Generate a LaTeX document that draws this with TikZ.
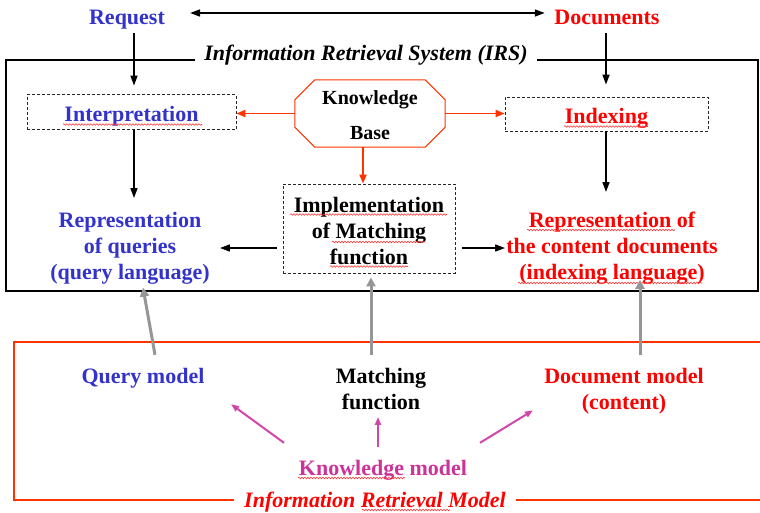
\documentclass[tikz,border=0pt]{standalone}
\usepackage{fontspec}
\setmainfont{Liberation Serif}
\usetikzlibrary{arrows.meta,calc,decorations.pathmorphing}
\definecolor{qblue}{RGB}{51,51,204}
\definecolor{dred}{RGB}{255,0,0}
\definecolor{ored}{RGB}{255,51,0}
\definecolor{kmag}{RGB}{204,51,153}
\definecolor{amag}{RGB}{210,70,170}
\definecolor{agray}{RGB}{150,150,150}
\begin{document}
\begin{tikzpicture}[x=1pt,y=-1pt,
  lbl/.style={font=\fontsize{22}{26}\selectfont\bfseries, align=center, inner sep=0pt},
  ttl/.style={font=\fontsize{22}{26}\selectfont\bfseries\itshape, inner sep=0pt},
  one/.style={text height=15pt, text depth=5pt},
  dbox/.style={draw=black!85, dash pattern=on 3pt off 2pt, line width=0.8pt},
  arr/.style={-{Triangle[length=10pt,width=7pt]}, line width=1.6pt},
  dblarr/.style={{Triangle[length=10pt,width=7pt]}-{Triangle[length=10pt,width=7pt]}, line width=1.6pt},
  rarr/.style={draw=ored, -{Triangle[length=9pt,width=7pt]}, line width=1.8pt},
  garr/.style={draw=agray, -{Triangle[length=9pt,width=9pt]}, line width=3pt},
  marr/.style={draw=amag, -{Triangle[length=8pt,width=6pt]}, line width=2pt},
  sq/.style={draw=dred!80, line width=0.6pt, decorate, decoration={snake, segment length=3pt, amplitude=0.8pt}},
]
\useasboundingbox (0,0) rectangle (760,512);

% top labels
\node[lbl,one,text=qblue] (req) at (127,19) {Request};
\node[lbl,one,text=dred] (doc) at (607,19) {Documents};
\node[ttl,one] (irs) at (366,55) {Information Retrieval System (IRS)};

% IRS frame
\draw[line width=1.5pt] ([xshift=-9pt]irs.base west) -- (6,60) -- (6,291) -- (758,291) -- (758,60) -- ([xshift=9pt]irs.base east);

% boxes
\node[lbl,dbox,text=qblue,text height=18pt,text depth=0pt,minimum width=209pt,minimum height=35pt] (interp) at (131.5,112) {Interpretation};
\node[lbl,dbox,text=dred,text height=18pt,text depth=0pt,minimum width=203pt,minimum height=34pt] (idx) at (606.5,114) {Indexing};
\node[minimum width=150pt,minimum height=67pt,inner sep=0pt,align=center,font=\fontsize{20}{35}\selectfont\bfseries] (kb) at (370,113.5) {\rule{0pt}{17pt}Knowledge\\Base};
\draw[ored,line width=1pt]
  ($(kb.north west)+(20,0)$) -- ($(kb.north east)+(-20,0)$) -- ($(kb.north east)+(0,20)$) --
  ($(kb.south east)+(0,-20)$) -- ($(kb.south east)+(-20,0)$) -- ($(kb.south west)+(20,0)$) --
  ($(kb.south west)+(0,-20)$) -- ($(kb.north west)+(0,20)$) -- cycle;
\node[lbl,dbox,minimum width=172pt,minimum height=89pt] (impl) at (369,228.5) {\rule{0pt}{20pt}Implementation\\of Matching\\function};

\node[lbl,text=qblue,anchor=north] (qrep) at (130,212) {\rule{0pt}{15pt}Representation\\of queries\\(query language)};
\node[lbl,text=dred,anchor=north] (crep) at (612,212) {\rule{0pt}{15pt}Representation of\\the content documents\\(indexing language)};

% bottom labels
\node[lbl,one,text=qblue] (qm) at (143,378) {Query model};
\node[lbl,anchor=north] (mf) at (381,368) {\rule{0pt}{15pt}Matching\\function};
\node[lbl,text=dred,anchor=north] (dm) at (624,368) {\rule{0pt}{15pt}Document model\\(content)};
\node[lbl,one,text=kmag] (km) at (383,470) {Knowledge model};
\node[ttl,one,text=dred] (irm) at (375,502) {Information Retrieval Model};

% IR model frame
\draw[ored,line width=2pt] ($(irm.west)+(-10,-2)$) -- (14,500) -- (14,342) -- (760,342);
\draw[ored,line width=2pt] ($(irm.east)+(10,-2)$) -- (760,500);

% spell-check squiggles
\draw[sq] (63,124.5) -- (202,124.5);
\draw[sq] (564,126.5) -- (648,126.5);
\draw[sq] (290,214.5) -- (447,214.5);
\draw[sq] (332,242) -- (425,242);
\draw[sq] (330,266.5) -- (408,266.5);
\draw[sq] (527,230) -- (675,230);
\draw[sq] (518,283) -- (597,283);
\draw[sq] (606,283) -- (702,283);
\draw[sq] (298,478) -- (405,478);
\draw[sq] (362,510) -- (450,510);

% black arrows
\draw[dblarr,shorten <=25pt,shorten >=9.5pt] ([yshift=6pt]req.east) -- ([yshift=6pt]doc.west);
\draw[arr,shorten <=4pt,shorten >=8.5pt] ([xshift=7pt]req.south) -- ([xshift=2.5pt]interp.north);
\draw[arr,shorten >=14pt] ([xshift=2.5pt]interp.south) -- ([xshift=4pt]qrep.north);
\draw[arr,shorten <=4pt,shorten >=12pt] ([xshift=-1pt]doc.south) -- ([xshift=-0.5pt]idx.north);
\draw[arr,shorten >=20pt] ([xshift=-0.5pt]idx.south) -- ([xshift=-6pt]crep.north);
\draw[arr,shorten <=6pt,shorten >=10pt] ($(impl.west)+(0,19.5)$) -- ($(qrep.east |- impl.west)+(0,19.5)$);
\draw[arr,shorten <=7pt,shorten >=1pt] ($(impl.east)+(0,19.5)$) -- ($(crep.west |- impl.east)+(0,19.5)$);

% red arrows
\draw[rarr] (kb.west) -- (interp.east |- kb.west);
\draw[rarr] (kb.east) -- (idx.west |- kb.east);
\draw[rarr] ([xshift=-7pt]kb.south) -- ([xshift=-6pt]impl.north);

% gray arrows
\draw[garr] ([xshift=12pt,yshift=13pt]qm.north) -- ([xshift=13pt,yshift=-3pt]qrep.south);
\draw[garr] ([xshift=-10pt,yshift=13pt]mf.north) -- ([xshift=2pt,yshift=-4pt]impl.south);
\draw[garr] ([xshift=16pt,yshift=13pt]dm.north) -- ([xshift=28pt,yshift=5pt]crep.south);

% magenta arrows
\draw[marr] ([xshift=-99pt,yshift=17pt]km.north) -- ([xshift=88pt,yshift=-16pt]qm.south);
\draw[marr] ([xshift=-5pt,yshift=13pt]km.north) -- ([xshift=-3pt,yshift=-7pt]mf.south);
\draw[marr] ([xshift=97pt,yshift=17pt]km.north) -- ([xshift=-91pt,yshift=4pt]dm.south);
\end{tikzpicture}
\end{document}
